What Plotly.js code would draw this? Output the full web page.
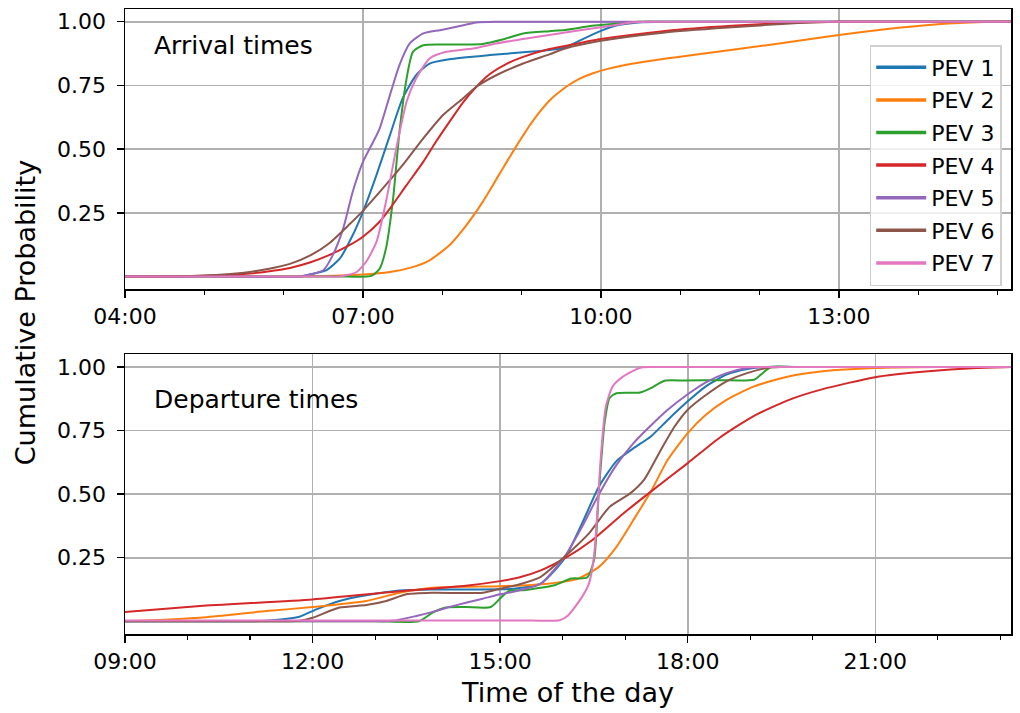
<!DOCTYPE html>
<html>
<head>
<meta charset="utf-8">
<script src="https://cdn.plot.ly/plotly-3.0.1.min.js"></script>
<style>html,body{margin:0;padding:0;background:#fff;}#chart{width:1020px;height:713px;}</style>
</head>
<body>
<div id="chart"></div>
<script>
// ---- Series names & colours ----
const seriesNames = ["PEV 1","PEV 2","PEV 3","PEV 4","PEV 5","PEV 6","PEV 7"];
const seriesColors = ["#1f77b4","#ff7f0e","#2ca02c","#d62728","#9467bd","#8c564b","#e377c2"];

// ---- Arrival times (hours of day, cumulative probability) ----
const arrT1 = [4, 5.5, 6.2, 6.33, 6.54, 6.71, 6.87, 7.0, 7.17, 7.34, 7.5, 7.67, 7.84, 8.09, 8.6, 9.02, 9.35, 9.55, 9.76, 10.0, 10.18, 10.47, 10.8, 12, 13.5, 15.17];
const arrP1 = [0, 0, 0, 0.008, 0.025, 0.071, 0.162, 0.254, 0.398, 0.555, 0.699, 0.79, 0.836, 0.853, 0.869, 0.88, 0.889, 0.899, 0.93, 0.964, 0.984, 0.997, 1, 1, 1, 1];
const arrT2 = [4, 5.5, 6.5, 7.0, 7.34, 7.59, 7.84, 8.09, 8.3, 8.51, 8.72, 8.93, 9.14, 9.35, 9.55, 9.72, 9.9, 10.1, 10.39, 10.8, 11.23, 12.07, 13.0, 13.75, 14.38, 15.0, 15.17];
const arrP2 = [0, 0, 0.002, 0.008, 0.018, 0.034, 0.064, 0.123, 0.2, 0.293, 0.402, 0.51, 0.61, 0.69, 0.742, 0.775, 0.798, 0.816, 0.835, 0.855, 0.872, 0.907, 0.948, 0.976, 0.993, 1, 1];
const arrT3 = [4, 5.5, 6.8, 7.05, 7.12, 7.21, 7.29, 7.38, 7.46, 7.55, 7.63, 7.76, 7.97, 8.25, 8.51, 8.76, 9.02, 9.35, 9.55, 9.89, 10.18, 10.47, 11, 12.5, 15.17];
const arrP3 = [0, 0, 0, 0, 0.005, 0.031, 0.11, 0.306, 0.568, 0.777, 0.882, 0.908, 0.911, 0.911, 0.913, 0.93, 0.954, 0.963, 0.968, 0.984, 0.992, 1, 1, 1, 1];
const arrT4 = [4, 4.5, 5.0, 5.5, 5.8, 6.08, 6.33, 6.58, 6.83, 7.0, 7.21, 7.34, 7.55, 7.76, 7.92, 8.09, 8.26, 8.43, 8.6, 8.81, 9.02, 9.35, 9.55, 10.0, 10.81, 11.65, 12.49, 13.0, 14, 15.17];
const arrP4 = [0, 0, 0.003, 0.01, 0.02, 0.034, 0.055, 0.085, 0.123, 0.156, 0.215, 0.267, 0.359, 0.45, 0.529, 0.607, 0.683, 0.745, 0.795, 0.835, 0.862, 0.893, 0.905, 0.932, 0.964, 0.984, 0.997, 1, 1, 1];
const arrT5 = [4, 5.5, 6.2, 6.33, 6.5, 6.62, 6.75, 6.87, 7.0, 7.13, 7.21, 7.34, 7.46, 7.59, 7.76, 7.97, 8.18, 8.43, 8.68, 9.5, 12, 15.17];
const arrP5 = [0, 0, 0, 0.008, 0.025, 0.084, 0.188, 0.332, 0.45, 0.529, 0.581, 0.712, 0.83, 0.915, 0.954, 0.967, 0.98, 0.997, 1, 1, 1, 1];
const arrT6 = [4, 4.5, 5.0, 5.5, 5.8, 6.08, 6.33, 6.58, 6.83, 7.0, 7.25, 7.5, 7.76, 8.01, 8.26, 8.43, 8.68, 9.02, 9.35, 9.55, 10.0, 10.81, 11.65, 12.49, 13.0, 14, 15.17];
const arrP6 = [0, 0.001, 0.004, 0.015, 0.03, 0.05, 0.082, 0.132, 0.205, 0.258, 0.346, 0.437, 0.542, 0.634, 0.699, 0.745, 0.79, 0.836, 0.872, 0.895, 0.925, 0.958, 0.978, 0.995, 1, 1, 1];
const arrT7 = [4, 5.5, 6.5, 6.7, 6.79, 6.92, 7.04, 7.17, 7.29, 7.42, 7.55, 7.67, 7.84, 8.05, 8.39, 8.68, 9.02, 9.35, 9.55, 10.0, 10.39, 10.6, 11.5, 13, 15.17];
const arrP7 = [0, 0, 0, 0, 0.005, 0.018, 0.058, 0.136, 0.293, 0.503, 0.686, 0.777, 0.856, 0.882, 0.895, 0.915, 0.932, 0.948, 0.958, 0.978, 0.997, 1, 1, 1, 1];

// ---- Departure times (hours of day, cumulative probability) ----
const depT1 = [9, 10, 11.0, 11.26, 11.79, 12.06, 12.43, 12.86, 13.39, 13.92, 14.45, 15.0, 15.21, 15.65, 16.03, 16.31, 16.58, 16.86, 17.13, 17.41, 17.68, 18.0, 18.29, 18.62, 18.95, 19.22, 20, 21.5, 23.17];
const depP1 = [0, 0, 0, 0.002, 0.018, 0.047, 0.08, 0.102, 0.121, 0.125, 0.125, 0.126, 0.128, 0.148, 0.247, 0.385, 0.53, 0.63, 0.68, 0.727, 0.792, 0.865, 0.924, 0.97, 0.992, 1, 1, 1, 1];
const depT2 = [9, 10.2, 11.26, 12.0, 12.86, 13.39, 13.92, 14.45, 15.0, 15.76, 16.25, 16.58, 16.86, 17.13, 17.41, 17.68, 18.0, 18.29, 18.62, 19.06, 19.61, 20.16, 21.0, 22.0, 23.17];
const depP2 = [0, 0.014, 0.04, 0.056, 0.08, 0.112, 0.132, 0.136, 0.138, 0.148, 0.168, 0.214, 0.293, 0.398, 0.51, 0.635, 0.74, 0.812, 0.871, 0.924, 0.963, 0.983, 0.996, 1, 1];
const depT3 = [9, 11, 13.0, 13.7, 13.92, 14.13, 14.45, 14.85, 15.04, 15.15, 15.37, 15.87, 16.14, 16.39, 16.5, 16.58, 16.67, 16.75, 16.86, 17.24, 17.41, 17.63, 17.96, 18.5, 19.06, 19.17, 19.33, 19.7, 20.5, 21.5, 23.17];
const depP3 = [0, 0, 0, 0, 0.034, 0.054, 0.056, 0.056, 0.1, 0.12, 0.122, 0.142, 0.168, 0.172, 0.24, 0.516, 0.78, 0.878, 0.897, 0.9, 0.917, 0.946, 0.947, 0.948, 0.95, 0.97, 1, 1, 1, 1, 1];
const depT4 = [9, 10.2, 12.0, 13.39, 14.45, 15.0, 15.3, 15.65, 16.03, 16.47, 16.97, 17.41, 18.0, 18.51, 19.06, 19.61, 20.16, 21.0, 21.8, 22.62, 23.17];
const depP4 = [0.037, 0.06, 0.086, 0.118, 0.14, 0.158, 0.172, 0.2, 0.247, 0.319, 0.424, 0.51, 0.622, 0.722, 0.808, 0.87, 0.913, 0.96, 0.982, 0.996, 1];
const depT5 = [9, 11, 12.5, 13.28, 13.66, 13.92, 14.19, 14.45, 14.72, 15.0, 15.21, 15.65, 16.03, 16.31, 16.58, 16.86, 17.13, 17.41, 17.68, 18.0, 18.29, 18.62, 18.95, 19.2, 20, 21.5, 23.17];
const depP5 = [0, 0, 0, 0.002, 0.021, 0.037, 0.056, 0.073, 0.089, 0.106, 0.116, 0.148, 0.254, 0.372, 0.5, 0.615, 0.7, 0.77, 0.832, 0.893, 0.94, 0.976, 0.996, 1, 1, 1, 1];
const depT6 = [9, 10.5, 11.5, 11.79, 12.0, 12.43, 12.86, 13.18, 13.5, 13.92, 14.72, 15.0, 15.3, 15.65, 16.03, 16.42, 16.75, 17.08, 17.3, 17.57, 17.79, 18.0, 18.29, 18.62, 18.95, 19.28, 19.5, 20.5, 22, 23.17];
const depP6 = [0, 0, 0, 0.002, 0.014, 0.054, 0.064, 0.08, 0.106, 0.112, 0.112, 0.128, 0.145, 0.175, 0.254, 0.346, 0.45, 0.503, 0.556, 0.674, 0.766, 0.832, 0.89, 0.944, 0.976, 0.997, 1, 1, 1, 1];
const depT7 = [9, 11, 13, 14.5, 15.5, 15.95, 16.09, 16.31, 16.42, 16.5, 16.56, 16.61, 16.69, 16.8, 16.97, 17.24, 17.4, 18.5, 20, 21.5, 23.17];
const depP7 = [0.003, 0.003, 0.003, 0.003, 0.003, 0.004, 0.024, 0.096, 0.148, 0.254, 0.45, 0.648, 0.845, 0.924, 0.963, 0.997, 1, 1, 1, 1, 1];

// ---- Axis settings ----
const yTickVals = [0.25, 0.5, 0.75, 1.0];
const yTickText = ["0.25", "0.50", "0.75", "1.00"];
const arrRange = [4, 15.17];
const depRange = [9, 23.17];

const arrT = [arrT1, arrT2, arrT3, arrT4, arrT5, arrT6, arrT7];
const arrP = [arrP1, arrP2, arrP3, arrP4, arrP5, arrP6, arrP7];
const depT = [depT1, depT2, depT3, depT4, depT5, depT6, depT7];
const depP = [depP1, depP2, depP3, depP4, depP5, depP6, depP7];

function toDate(h) {
  const ms = Date.UTC(2024, 0, 1) + Math.round(h * 3600) * 1000;
  const d = new Date(ms);
  const p = n => String(n).padStart(2, "0");
  return "2024-01-01 " + p(d.getUTCHours()) + ":" + p(d.getUTCMinutes()) + ":" + p(d.getUTCSeconds());
}

const FONT = "DejaVu Sans";
const LINE = {width: 2, shape: "spline", smoothing: 0.6};
const traces = [];
for (let i = 0; i < 7; i++) {
  traces.push({
    x: arrT[i].map(toDate), y: arrP[i], xaxis: "x", yaxis: "y",
    type: "scatter", mode: "lines", name: seriesNames[i], showlegend: false,
    line: Object.assign({color: seriesColors[i]}, LINE), hoverinfo: "skip"
  });
}
for (let i = 0; i < 7; i++) {
  traces.push({
    x: depT[i].map(toDate), y: depP[i], xaxis: "x2", yaxis: "y2",
    type: "scatter", mode: "lines", name: seriesNames[i], showlegend: false,
    line: Object.assign({color: seriesColors[i]}, LINE), hoverinfo: "skip"
  });
}
// legend entries (thicker legend handles)
for (let i = 0; i < 7; i++) {
  traces.push({
    x: [null], y: [null], xaxis: "x", yaxis: "y", type: "scatter", mode: "lines",
    name: seriesNames[i], legendgroup: "g" + i, showlegend: true,
    line: {color: seriesColors[i], width: 3.5}
  });
}

const xCommon = {
  type: "date", tickformat: "%H:%M", dtick: 3 * 3600000,
  ticks: "outside", ticklen: 7, tickwidth: 1.5, tickcolor: "#000",
  showgrid: true, gridcolor: "#b0b0b0", gridwidth: 1.6,
  showline: true, mirror: true, linecolor: "#000", linewidth: 1.5,
  zeroline: false, tickfont: {family: FONT, size: 22, color: "#000"},
  minor: {dtick: 3600000, ticks: "outside", ticklen: 4, tickwidth: 1.2, tickcolor: "#000", showgrid: false}
};
const yCommon = {
  range: [-0.05, 1.05], tickmode: "array", tickvals: yTickVals, ticktext: yTickText,
  ticks: "outside", ticklen: 7, tickwidth: 1.5, tickcolor: "#000",
  showgrid: true, gridcolor: "#b0b0b0", gridwidth: 1.6,
  showline: true, mirror: true, linecolor: "#000", linewidth: 1.5,
  zeroline: false, tickfont: {family: FONT, size: 22, color: "#000"}, ticklabelstandoff: 6
};

const layout = {
  width: 1020, height: 713,
  margin: {l: 125, r: 9, t: 9, b: 79},
  paper_bgcolor: "#fff", plot_bgcolor: "#fff",
  font: {family: FONT, size: 22, color: "#000"},
  xaxis: Object.assign({}, xCommon, {anchor: "y", range: arrRange.map(toDate), tick0: "2024-01-01 01:00"}),
  yaxis: Object.assign({}, yCommon, {anchor: "x", domain: [0.5515, 1]}),
  xaxis2: Object.assign({}, xCommon, {anchor: "y2", range: depRange.map(toDate), tick0: "2024-01-01 00:00",
    title: {text: "Time of the day", font: {family: FONT, size: 27, color: "#000"}, standoff: 10}}),
  yaxis2: Object.assign({}, yCommon, {anchor: "x2", domain: [0, 0.4475]}),
  showlegend: true,
  legend: {
    x: 0.9895, xanchor: "right", y: 0.9424, yanchor: "top",
    bgcolor: "rgba(255,255,255,0.8)", bordercolor: "#d0d0d0", borderwidth: 1.5,
    font: {family: FONT, size: 22, color: "#000"}, tracegroupgap: 1, itemwidth: 50
  },
  annotations: [
    {text: "Arrival times", xref: "x domain", yref: "y domain", x: 0.03, y: 0.869,
     xanchor: "left", yanchor: "middle", showarrow: false, font: {family: FONT, size: 25, color: "#000"}},
    {text: "Departure times", xref: "x2 domain", yref: "y2 domain", x: 0.03, y: 0.837,
     xanchor: "left", yanchor: "middle", showarrow: false, font: {family: FONT, size: 25, color: "#000"}},
    {text: "Cumulative Probability", xref: "paper", yref: "paper", x: -0.1123, y: 0.514,
     xanchor: "center", yanchor: "middle", textangle: -90, showarrow: false,
     font: {family: FONT, size: 27, color: "#000"}}
  ]
};

Plotly.newPlot("chart", traces, layout, {displayModeBar: false, staticPlot: true});
</script>
</body>
</html>
